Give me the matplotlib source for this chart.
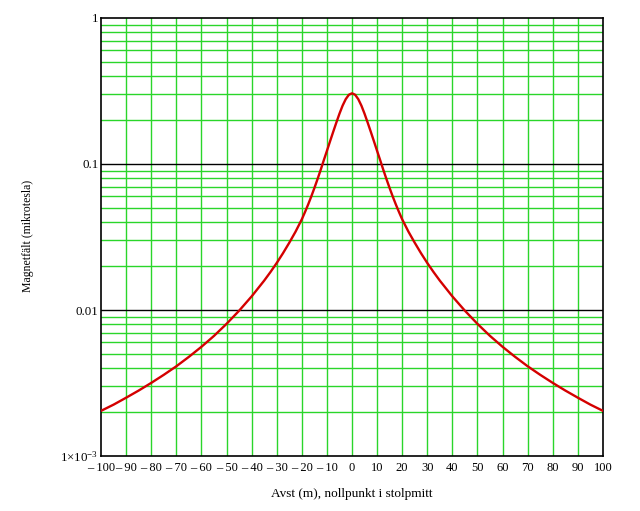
import numpy as np
import matplotlib
matplotlib.use('Agg')
import matplotlib.pyplot as plt
from matplotlib.ticker import FixedLocator, NullFormatter

plt.rcParams['font.family'] = ['Liberation Serif', 'DejaVu Serif']
plt.rcParams['mathtext.fontset'] = 'custom'
plt.rcParams['mathtext.rm'] = 'Liberation Serif'
plt.rcParams['mathtext.it'] = 'Liberation Serif:italic'

# avstånd från stolpmitt (m), ena sidan; kurvan är symmetrisk
avst_halv = [0, 1.25, 2.5, 3.75, 5, 6.25, 7.5, 8.75, 10, 11.25, 12.5, 13.75,
             15, 16.25, 17.5, 18.75, 20, 22.5, 25, 27.5, 30, 32.5, 35, 40, 45,
             50, 55, 60, 65, 70, 75, 80, 85, 90, 95, 100]
# magnetfält (mikrotesla)
falt_halv = [0.305, 0.298, 0.278, 0.251, 0.221, 0.192, 0.166, 0.143, 0.123,
             0.106, 0.091, 0.0787, 0.0684, 0.0598, 0.0527, 0.0468, 0.0418,
             0.0344, 0.0289, 0.0245, 0.0210, 0.0182, 0.0159, 0.0124, 0.00989,
             0.00804, 0.00665, 0.00560, 0.00478, 0.00412, 0.00360, 0.00317,
             0.00281, 0.00251, 0.00225, 0.00204]

x = np.array([-a for a in avst_halv[::-1]] + avst_halv[1:])
b = np.array(falt_halv[::-1] + falt_halv[1:])

x_ticks = list(range(-100, 101, 10))
x_labels = [('\u2013 ' + str(-t)) if t < 0 else str(t) for t in x_ticks]
y_ticks = [1e-3, 1e-2, 1e-1, 1]
y_labels = [r'1$\times$10$^{-3}$', '0.01', '0.1', '1']

gron = '#2ad62a'

fig = plt.figure(figsize=(6.4, 5.11), dpi=100)
ax = fig.add_axes([0.158, 0.1076, 0.784, 0.8572])

ax.set_yscale('log')
ax.set_xlim(-100, 100)
ax.set_ylim(1e-3, 1)

# rutnät
for t in x_ticks[1:-1]:
    ax.axvline(t, color=gron, lw=1, zorder=1)
for d in [1e-3, 1e-2, 1e-1]:
    for m in range(2, 10):
        ax.axhline(d * m, color=gron, lw=1, zorder=1)
for d in [1e-2, 1e-1]:
    ax.axhline(d, color='black', lw=1, zorder=1)

ax.plot(x, b, color='#d40000', lw=1.7, zorder=3)

ax.xaxis.set_major_locator(FixedLocator(x_ticks))
ax.set_xticklabels(x_labels)
ax.yaxis.set_major_locator(FixedLocator(y_ticks))
ax.set_yticklabels(y_labels)
ax.yaxis.set_minor_formatter(NullFormatter())
ax.tick_params(which='both', length=0, labelsize=9.3)
ax.tick_params(axis='x', labelsize=9, pad=4)
ax.tick_params(axis='y', pad=2)

for s in ax.spines.values():
    s.set_linewidth(1.2)
    s.set_color('black')

fig.text(352 / 640, 1 - 494 / 511, 'Avst (m), nollpunkt i stolpmitt',
         fontsize=9.5, ha='center', va='center')
fig.text(28 / 640, 1 - 236 / 511, 'Magnetfält (mikrotesla)',
         fontsize=8.5, ha='center', va='center', rotation=90)

fig.savefig('out.png', dpi=100)
